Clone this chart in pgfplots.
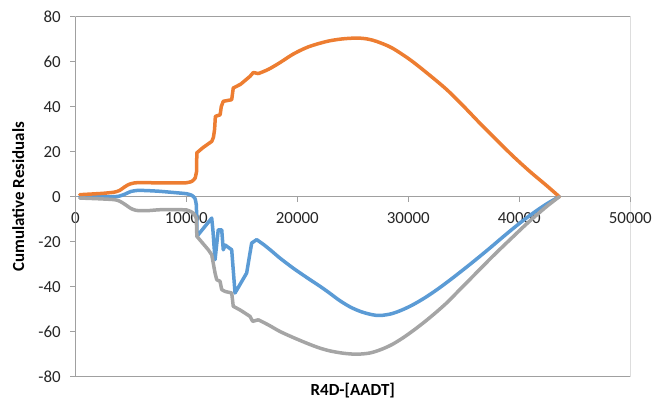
\documentclass[border=0pt]{standalone}
\usepackage{pgfplots}
\pgfplotsset{compat=1.18}
\usepackage{fontspec}
\setmainfont{Carlito}
\definecolor{xorange}{HTML}{ED7D31}
\definecolor{xblue}{HTML}{5B9BD5}
\definecolor{xgray}{HTML}{A5A5A5}
\definecolor{axgray}{HTML}{A0A0A0}
\begin{document}
\begin{tikzpicture}
\path[use as bounding box] (-75.3bp,-25.3bp) rectangle (580.7bp,376.7bp);
\begin{axis}[
  at={(0,0)}, anchor=south west,
  scale only axis, width=555bp, height=360bp,
  xmin=0, xmax=50000, ymin=-80, ymax=80,
  axis x line=middle, axis y line=left,
  hide obscured x ticks=false, hide obscured y ticks=false,
  axis line style={-, draw=axgray, line width=0.8bp},
  xtick={0,10000,20000,30000,40000,50000},
  ytick={-80,-60,-40,-20,0,20,40,60,80},
  tick align=outside, major tick length=5bp,
  tick style={draw=axgray, line width=0.8bp},
  scaled x ticks=false,
  /pgf/number format/1000 sep={},
  /pgf/number format/assume math mode=true,
  ticklabel style={font=\fontsize{17}{20}\selectfont, text=black!85},
  xticklabel style={yshift=-7bp},
  yticklabel style={xshift=-6bp},
  every axis x label/.style={at={(axis description cs:0.5,0)}, anchor=center, yshift=-14bp, font=\fontsize{17}{20}\selectfont\bfseries},
  every axis y label/.style={at={(axis description cs:-0.1027,0.5)}, anchor=center, rotate=90, font=\fontsize{17}{20}\selectfont\bfseries},
  xlabel={R4D-[AADT]},
  ylabel={Cumulative Residuals},
  every axis plot/.append style={line width=3.5bp, line join=round, line cap=round, no markers},
]
\draw[axgray, line width=0.8bp] (rel axis cs:0,0) rectangle (rel axis cs:1,1);
% blue
\addplot[xblue, smooth, tension=0.4] coordinates {
(400,0) (2000,-0.1) (3500,0) (4000,0.3) (4500,1.2) (5000,2.3) (5600,2.8) (6500,2.7) (7600,2.4) (9000,1.8) (10040,1.3) (10500,0.6) (10780,-0.8) (10900,-3.5)
};
\addplot[xblue] coordinates {
(10900,-3.5) (10950,-10) (10960,-17.6)
(12290,-9.5) (12400,-15) (12500,-22) (12590,-28) (12880,-14.7) (13190,-14.7) (13330,-23.6) (13500,-21.5) (14090,-23.6) (14390,-42.8)
(15440,-33.9) (15890,-20.6) (16340,-19.1)
};
\addplot[xblue, smooth, tension=0.5] coordinates {
(16340,-19.1) (17000,-21.4) (17700,-24.2) (18440,-27.3) (19640,-31.8) (21000,-36.4) (22040,-39.8) (22900,-42.8) (23800,-46.1) (24800,-49.1) (25800,-51.2) (26800,-52.5) (27500,-52.8) (28500,-52) (29500,-50.2) (30500,-47.8) (31500,-44.9) (32500,-41.6) (33500,-38) (34500,-34.2) (35500,-30.3) (36500,-26.3) (37500,-22.2) (38500,-18) (39500,-13.9) (40500,-10) (41500,-6.4) (42500,-3.1) (43600,0)
};
% orange
\addplot[xorange, smooth, tension=0.4] coordinates {
(400,0.9) (1500,1.2) (2500,1.5) (3500,2.0) (4000,2.8) (4400,4.2) (4800,5.4) (5300,6.1) (6000,6.3) (7600,6.1) (9000,6.1) (10000,6.2) (10500,6.8) (10800,8.2)
};
\addplot[xorange] coordinates {
(10800,8.2) (10920,11) (10950,19.5)
(11500,21.8) (12300,24.6) (12450,26.5) (12550,30) (12620,35.7) (13050,36.4) (13150,40) (13330,42.4) (14090,43.1) (14230,48.3) (14900,50) (15740,53.5) (16040,55.2) (16490,54.7)
};
\addplot[xorange, smooth, tension=0.5] coordinates {
(16490,54.7) (17400,56.6) (18440,59.6) (19640,63.4) (21000,66.6) (22650,69) (24000,70.1) (25350,70.5) (26300,70.1) (27150,69) (28500,66.2) (30150,60.9) (31800,54.5) (33460,47.6) (35000,40.1) (36460,32.6) (38000,25) (39460,17.9) (41000,11) (42470,4.9) (43600,0)
};
% gray
\addplot[xgray, smooth, tension=0.4] coordinates {
(400,-0.6) (2000,-0.9) (3500,-1.3) (4000,-2) (4500,-3.5) (5000,-5.2) (5500,-6.1) (6500,-6.2) (7600,-5.8) (9000,-5.8) (10040,-5.9) (10630,-7.3) (10900,-9.5)
};
\addplot[xgray] coordinates {
(10900,-9.5) (10950,-17.6)
(11980,-23.6) (12290,-25.8) (12590,-33.9) (12740,-36.9) (13040,-37.6) (13190,-41.3) (13490,-42.1) (14090,-42.8) (14230,-48.7) (14900,-50.5) (15740,-53.2) (15980,-55.4) (16490,-54.7)
};
\addplot[xgray, smooth, tension=0.5] coordinates {
(16490,-54.7) (17400,-57) (18440,-59.9) (19640,-62.6) (21000,-65.4) (22040,-67.3) (23000,-68.6) (24200,-69.6) (25350,-70) (26500,-69.5) (27500,-68) (28500,-65.8) (29500,-62.8) (30500,-59.3) (31500,-55.5) (32500,-51.4) (33500,-47) (34500,-42) (35500,-37) (36500,-32) (37500,-27) (38500,-22.2) (39500,-17.5) (40500,-12.8) (41500,-8.4) (42500,-4.2) (43600,0)
};
\end{axis}
\end{tikzpicture}
\end{document}
